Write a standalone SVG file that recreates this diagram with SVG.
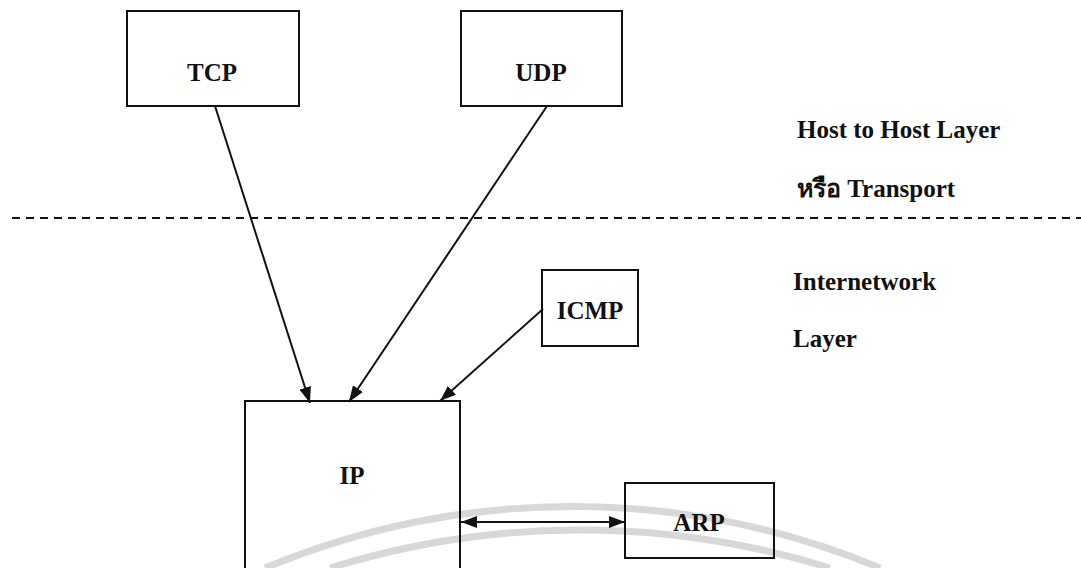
<svg xmlns="http://www.w3.org/2000/svg" width="1081" height="568" viewBox="0 0 1081 568">
  <style>
    .box { fill: none; stroke: #111111; stroke-width: 2; }
    .lbl { font-family: "Liberation Serif", "DejaVu Serif", "Noto Sans", serif; font-weight: bold; fill: #111111; }
    .node-lbl { font-size: 25px; text-anchor: middle; }
    .layer-lbl { font-size: 25px; }
    .wire { stroke: #111111; stroke-width: 2; fill: none; }
    .divider { stroke: #111111; stroke-width: 2; stroke-dasharray: 8 6; }
    .mark { fill: none; stroke: #d8d8d8; stroke-width: 7; }
  </style>
  <defs>
    <marker id="head" viewBox="0 0 16 12" refX="16" refY="6" markerWidth="16" markerHeight="12" markerUnits="userSpaceOnUse" orient="auto-start-reverse">
      <path d="M0,0 L16,6 L0,12 Z" fill="#111111"/>
    </marker>
  </defs>

  <rect width="1081" height="568" fill="#ffffff"/>

  <!-- faint seal arcs behind the lower part -->
  <g id="seal">
    <path class="mark" d="M 265 568 A 800 800 0 0 1 880 568"/>
    <path class="mark" d="M 330 568 A 841 841 0 0 1 830 568"/>
  </g>

  <!-- layer boundary -->
  <line class="divider" x1="12" y1="218" x2="1081" y2="218"/>

  <!-- layer captions -->
  <g id="layer-labels" class="lbl layer-lbl">
    <text x="797" y="138">Host to Host Layer</text>
    <text x="797" y="197">หรือ Transport</text>
    <text x="793" y="290">Internetwork</text>
    <text x="793" y="347">Layer</text>
  </g>

  <g id="connectors">
    <line class="wire" x1="215" y1="106" x2="310" y2="403" marker-end="url(#head)"/>
    <line class="wire" x1="547" y1="106" x2="349" y2="402" marker-end="url(#head)"/>
    <line class="wire" x1="543" y1="309" x2="440" y2="401" marker-end="url(#head)"/>
    <line class="wire" x1="461" y1="522" x2="625" y2="522" marker-start="url(#head)" marker-end="url(#head)"/>
  </g>

  <g id="tcp">
    <rect class="box" x="127" y="11" width="172" height="95"/>
    <text class="lbl node-lbl" x="212" y="81">TCP</text>
  </g>

  <g id="udp">
    <rect class="box" x="461" y="11" width="161" height="95"/>
    <text class="lbl node-lbl" x="541" y="81">UDP</text>
  </g>

  <g id="icmp">
    <rect class="box" x="542" y="270" width="96" height="76"/>
    <text class="lbl node-lbl" x="590" y="319">ICMP</text>
  </g>

  <g id="ip">
    <rect class="box" x="245" y="401" width="215" height="180"/>
    <text class="lbl node-lbl" x="352" y="484">IP</text>
  </g>

  <g id="arp">
    <rect class="box" x="625" y="483" width="149" height="75"/>
    <text class="lbl node-lbl" x="699" y="531">ARP</text>
  </g>
</svg>
